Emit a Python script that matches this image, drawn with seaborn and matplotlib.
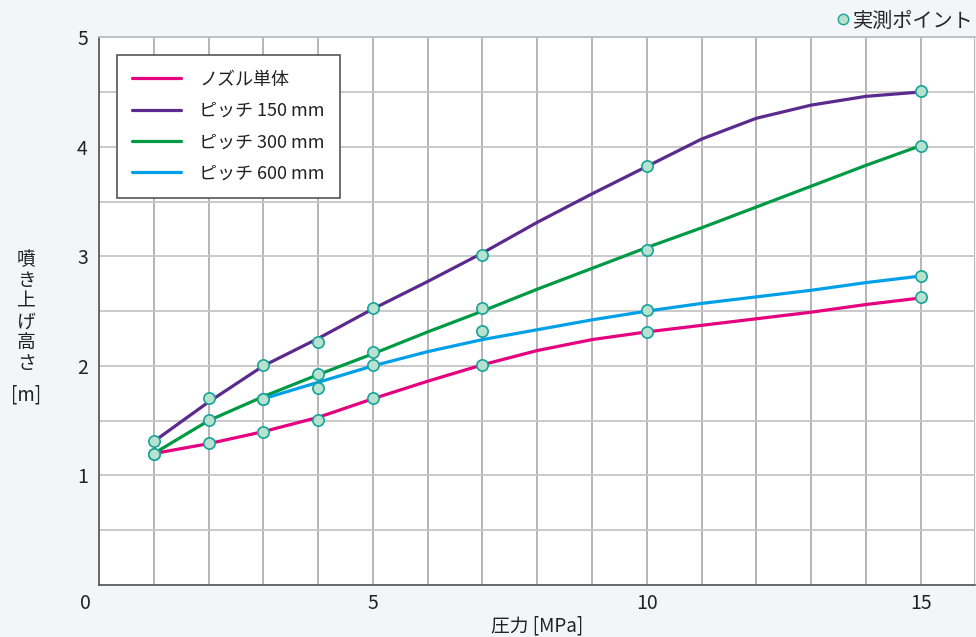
import pandas as pd
import seaborn as sns
import matplotlib.pyplot as plt
from matplotlib.lines import Line2D
from matplotlib.ticker import MultipleLocator

# series names / colours
series = ['ノズル単体', 'ピッチ 150 mm', 'ピッチ 300 mm', 'ピッチ 600 mm']
colors = ['#e4007f', '#5b2a8e', '#009a44', '#00a0e9']

# smooth curves at whole MPa steps
curve_x = [1, 2, 3, 4, 5, 6, 7, 8, 9, 10, 11, 12, 13, 14, 15]
curve_single = [1.20, 1.29, 1.40, 1.53, 1.70, 1.86, 2.01, 2.14, 2.24, 2.31, 2.37, 2.43, 2.49, 2.56, 2.62]
curve_150 = [1.31, 1.67, 2.00, 2.25, 2.52, 2.77, 3.03, 3.31, 3.57, 3.82, 4.07, 4.26, 4.38, 4.46, 4.50]
curve_300 = [1.20, 1.50, 1.72, 1.92, 2.11, 2.31, 2.50, 2.70, 2.89, 3.08, 3.26, 3.45, 3.64, 3.83, 4.01]
curve_600_x = [3, 4, 5, 6, 7, 8, 9, 10, 11, 12, 13, 14, 15]
curve_600 = [1.70, 1.85, 2.00, 2.13, 2.24, 2.33, 2.42, 2.50, 2.57, 2.63, 2.69, 2.76, 2.82]

# measured points
pts_x = [1, 2, 3, 4, 5, 7, 10, 15]
pts_single = [1.20, 1.30, 1.40, 1.51, 1.71, 2.01, 2.31, 2.63]
pts_150 = [1.31, 1.71, 2.01, 2.22, 2.53, 3.01, 3.82, 4.51]
pts_300 = [1.20, 1.51, 1.70, 1.93, 2.13, 2.53, 3.06, 4.01]
pts_600_x = [3, 4, 5, 7, 10, 15]
pts_600 = [1.70, 1.80, 2.01, 2.32, 2.51, 2.82]

xticks = [5, 10, 15]
yticks = [1, 2, 3, 4, 5]

curves = pd.concat([
    pd.DataFrame({'x': curve_x, 'y': curve_single, 's': series[0]}),
    pd.DataFrame({'x': curve_x, 'y': curve_150, 's': series[1]}),
    pd.DataFrame({'x': curve_x, 'y': curve_300, 's': series[2]}),
    pd.DataFrame({'x': curve_600_x, 'y': curve_600, 's': series[3]}),
])
points = pd.concat([
    pd.DataFrame({'x': pts_x, 'y': pts_single}),
    pd.DataFrame({'x': pts_x, 'y': pts_150}),
    pd.DataFrame({'x': pts_x, 'y': pts_300}),
    pd.DataFrame({'x': pts_600_x, 'y': pts_600}),
])

sns.set_theme(style='white')
plt.rcParams['font.family'] = ['Noto Sans CJK JP', 'DejaVu Sans']

bg = '#f3f6f8'
txt = '#222222'
fig = plt.figure(figsize=(9.76, 6.37), dpi=100, facecolor=bg)
ax = fig.add_axes([0.1014, 0.0816, 0.898, 0.860])
ax.set_facecolor('white')

sns.lineplot(data=curves, x='x', y='y', hue='s', palette=colors, hue_order=series,
             linewidth=2.3, ax=ax, zorder=3)
sns.scatterplot(data=points, x='x', y='y', color='#b6e2cf', edgecolor='#17a398',
                linewidth=1.2, s=66, ax=ax, zorder=4, legend=False)

ax.set_xlim(0, 16)
ax.set_ylim(0, 5)
ax.set_xticks(xticks)
ax.set_yticks(yticks)
ax.xaxis.set_minor_locator(MultipleLocator(1))
ax.yaxis.set_minor_locator(MultipleLocator(0.5))
ax.grid(axis='x', which='both', color='#b0b0b0', linewidth=1.3, zorder=0)
ax.grid(axis='y', which='both', color='#c6c6c6', linewidth=1.3, zorder=0)
ax.tick_params(which='both', length=0, labelsize=14, colors=txt)
ax.tick_params(axis='x', pad=6)
ax.tick_params(axis='y', pad=8)
# the zero label sits a little left of the origin
ax.annotate('0', xy=(0, 0), xytext=(-10, -6), textcoords='offset points',
            ha='center', va='top', fontsize=14, color=txt, annotation_clip=False)
ax.set_xlabel('圧力 [MPa]', fontsize=13.5, labelpad=1, color=txt)
ax.set_ylabel('')

for side in ['left', 'bottom']:
    ax.spines[side].set_color('#555555')
    ax.spines[side].set_linewidth(1.2)
ax.spines['top'].set_color('#bbbbbb')
ax.spines['right'].set_visible(False)

leg = ax.legend(loc='upper left', bbox_to_anchor=(0.0205, 0.967), fontsize=13,
                frameon=True, fancybox=False, edgecolor='#555555', framealpha=1,
                handlelength=2.7, handletextpad=1.0, labelspacing=0.74,
                borderpad=0.85, borderaxespad=0)
leg.get_frame().set_linewidth(1.2)
for t in leg.get_texts():
    t.set_color(txt)

h = Line2D([], [], marker='o', ls='', markerfacecolor='#b6e2cf',
           markeredgecolor='#17a398', markersize=7.5)
fig.legend(handles=[h], labels=['実測ポイント'], loc='upper right',
           bbox_to_anchor=(1.016, 1.012), frameon=False, fontsize=14.5,
           handletextpad=0.0, handlelength=1.0)

fig.text(0.027, 0.511, '噴\nき\n上\nげ\n高\nさ', ha='center', va='center',
         fontsize=13.5, linespacing=0.98, color=txt)
fig.text(0.027, 0.380, '[m]', ha='center', va='center', fontsize=13.5, color=txt)

fig.savefig('out.png', dpi=100, facecolor=bg)
